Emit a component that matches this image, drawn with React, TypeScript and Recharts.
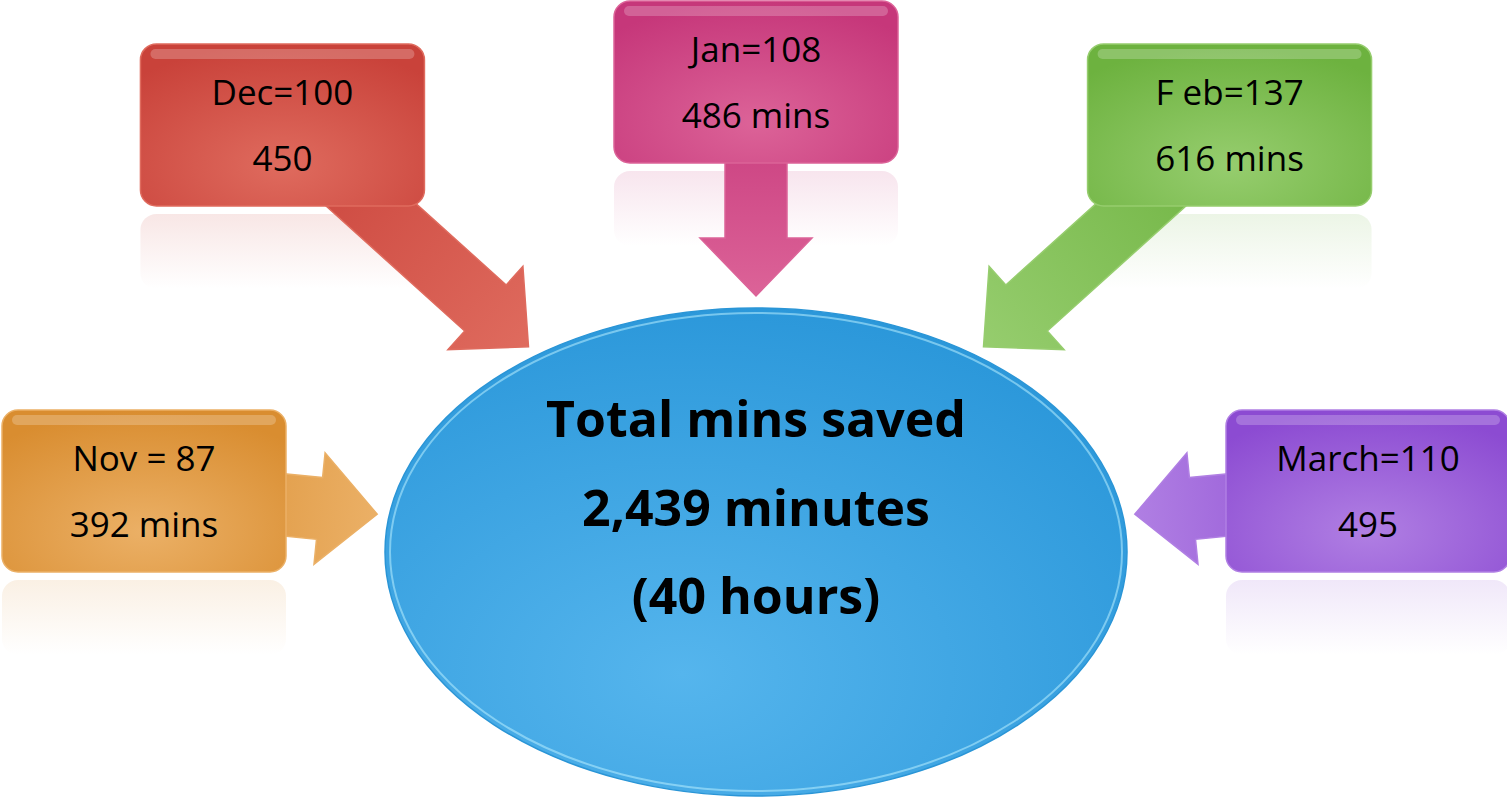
import React from 'react';
import { PieChart, Pie } from 'recharts';

// monthly requests and minutes saved
const months = ['Nov', 'Dec', 'Jan', 'Feb', 'March'];
const requestCounts = [87, 100, 108, 137, 110];
const minutesSaved = [392, 450, 486, 616, 495];
const countLabels = ['Nov = 87', 'Dec=100', 'Jan=108', 'F eb=137', 'March=110'];
const minuteLabels = ['392 mins', '450', '486 mins', '616 mins', '495'];

const palette = [
  { dark: '#d98d30', light: '#ebb066' },
  { dark: '#c9423a', light: '#df6b5e' },
  { dark: '#c6377a', light: '#dc6398' },
  { dark: '#6db23f', light: '#96cd6e' },
  { dark: '#8c4bd2', light: '#b07fe3' },
];

const W = 1507;
const H = 799;
const ELL = { cx: 756, cy: 552, rx: 371, ry: 244 };
const RING = { cx: 756, cy: 491, rx: 612, ry: 409 };
const BOX_W = 284;
const BOX_H = 162;
const FONT = '"Open Sans", "DejaVu Sans", sans-serif';
const RAD = Math.PI / 180;

const totalMinutes = minutesSaved.reduce((a, b) => a + b, 0);

const slotData = months.map((m, i) => ({
  name: m,
  slot: 1,
  count: requestCounts[i],
  minutes: minutesSaved[i],
  top: countLabels[i],
  bottom: minuteLabels[i],
}));
const totalData = [{ name: 'total', value: totalMinutes }];

function arrowPoints(sx: number, sy: number, tx: number, ty: number) {
  const len = Math.hypot(tx - sx, ty - sy);
  const ux = (tx - sx) / len;
  const uy = (ty - sy) / len;
  const px = -uy;
  const py = ux;
  const headLen = 58;
  const headHalf = 56;
  const shaftHalf = 31;
  const bx = tx - ux * headLen;
  const by = ty - uy * headLen;
  const pts = [
    [sx + px * shaftHalf, sy + py * shaftHalf],
    [bx + px * shaftHalf, by + py * shaftHalf],
    [bx + px * headHalf, by + py * headHalf],
    [tx, ty],
    [bx - px * headHalf, by - py * headHalf],
    [bx - px * shaftHalf, by - py * shaftHalf],
    [sx - px * shaftHalf, sy - py * shaftHalf],
  ];
  return pts.map((p) => p.map((v) => v.toFixed(1)).join(',')).join(' ');
}

const renderBox = (props: any) => {
  const { cx, cy, midAngle, index, payload } = props;
  const c = Math.cos(midAngle * RAD);
  const s = Math.sin(midAngle * RAD);
  const bx = cx + RING.rx * Math.sign(c) * Math.pow(Math.abs(c), 0.74);
  const by = cy - RING.ry * Math.pow(Math.abs(s), 0.32);
  const col = palette[index % palette.length];

  // arrow tip just outside the ellipse, on the line to its centre
  const dx = ELL.cx - bx;
  const dy = ELL.cy - by;
  const d = Math.hypot(dx, dy);
  const ux = dx / d;
  const uy = dy / d;
  const edge = 1 / Math.sqrt((ux / ELL.rx) ** 2 + (uy / ELL.ry) ** 2);
  const tx = ELL.cx - ux * (edge + 12);
  const ty = ELL.cy - uy * (edge + 12);

  const x0 = bx - BOX_W / 2;
  const y0 = by - BOX_H / 2;
  return (
    <g key={`box-${index}`}>
      <defs>
        <linearGradient id={`arr-${index}`} gradientUnits="userSpaceOnUse" x1={bx} y1={by} x2={tx} y2={ty}>
          <stop offset="0" stopColor={col.dark} />
          <stop offset="1" stopColor={col.light} />
        </linearGradient>
        <radialGradient id={`box-${index}`} cx="0.5" cy="0.75" r="0.75">
          <stop offset="0" stopColor={col.light} />
          <stop offset="1" stopColor={col.dark} />
        </radialGradient>
        <linearGradient id={`refl-${index}`} x1="0" y1="0" x2="0" y2="1">
          <stop offset="0" stopColor={col.dark} stopOpacity={0.13} />
          <stop offset="1" stopColor={col.dark} stopOpacity={0} />
        </linearGradient>
      </defs>
      <rect x={x0} y={y0 + BOX_H + 8} width={BOX_W} height={75} rx={16} fill={`url(#refl-${index})`} />
      <polygon points={arrowPoints(bx, by, tx, ty)} fill={`url(#arr-${index})`} stroke={col.light} strokeWidth={1.5} />
      <rect x={x0} y={y0} width={BOX_W} height={BOX_H} rx={16} fill={`url(#box-${index})`} stroke={col.light} strokeWidth={1.5} />
      <rect x={x0 + 10} y={y0 + 5} width={BOX_W - 20} height={10} rx={5} fill="#fff" fillOpacity={0.22} />
      <text x={bx} y={by - 20} textAnchor="middle" fontFamily={FONT} fontSize={35} fill="#000">
        {payload.top}
      </text>
      <text x={bx} y={by + 46} textAnchor="middle" fontFamily={FONT} fontSize={35} fill="#000">
        {payload.bottom}
      </text>
    </g>
  );
};

const renderTotal = (props: any) => {
  const { cx, cy, value } = props;
  return (
    <g key="total">
      <defs>
        <radialGradient id="ellFill" cx="0.4" cy="0.75" r="0.8">
          <stop offset="0" stopColor="#55b5ed" />
          <stop offset="1" stopColor="#2996d9" />
        </radialGradient>
      </defs>
      <ellipse cx={cx} cy={cy} rx={ELL.rx} ry={ELL.ry} fill="url(#ellFill)" stroke="#2a95d6" strokeWidth={1.5} />
      <ellipse cx={cx} cy={cy} rx={ELL.rx - 5} ry={ELL.ry - 5} fill="none" stroke="#b8eeff" strokeOpacity={0.55} strokeWidth={2} />
      <text x={cx} y={437} textAnchor="middle" fontFamily={FONT} fontWeight={700} fontSize={50} fill="#000">
        Total mins saved
      </text>
      <text x={cx} y={526} textAnchor="middle" fontFamily={FONT} fontWeight={700} fontSize={50} fill="#000">
        {`${value.toLocaleString('en-US')} minutes`}
      </text>
      <text x={cx} y={614} textAnchor="middle" fontFamily={FONT} fontWeight={700} fontSize={50} fill="#000">
        {`(${Math.floor(value / 60)} hours)`}
      </text>
    </g>
  );
};

export default function App() {
  return (
    <div>
      <style>{'body{margin:0;background:#fff}'}</style>
      <PieChart width={W} height={H} margin={{ top: 0, right: 0, bottom: 0, left: 0 }}>
        <Pie
          data={totalData}
          dataKey="value"
          cx={ELL.cx}
          cy={ELL.cy}
          outerRadius={1}
          fill="none"
          stroke="none"
          label={renderTotal}
          labelLine={false}
          isAnimationActive={false}
        />
        <Pie
          data={slotData}
          dataKey="slot"
          cx={RING.cx}
          cy={RING.cy}
          outerRadius={1}
          startAngle={202.5}
          endAngle={-22.5}
          fill="none"
          stroke="none"
          label={renderBox}
          labelLine={false}
          isAnimationActive={false}
        />
      </PieChart>
    </div>
  );
}
